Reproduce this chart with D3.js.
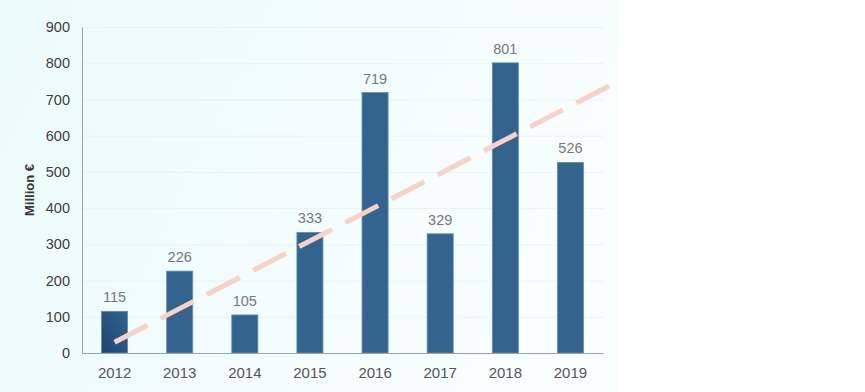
<!DOCTYPE html>
<html><head><meta charset="utf-8">
<script src="https://cdn.jsdelivr.net/npm/d3@7"></script>
<style>body{margin:0;background:#fff;}svg{display:block;font-family:"Liberation Sans",Arial,sans-serif;}</style>
</head><body><svg id="c" width="865" height="392"></svg>
<script>
const years = ["2012","2013","2014","2015","2016","2017","2018","2019"];
const values = [115,226,105,333,719,329,801,526];
const yTicks = [0,100,200,300,400,500,600,700,800,900];
const trendIdx = [0, 7.75];
const trendVal = [29.5, 752];

const svg = d3.select("#c");
const m = {l:82, r:262, t:27, b:39};
const W = 865, H = 392;
const x = d3.scaleBand().domain(years).range([m.l, W - m.r]).paddingInner(0.6).paddingOuter(0.3);
const y = d3.scaleLinear().domain([0,900]).range([H - m.b, m.t]);

const defs = svg.append("defs");
const bg = defs.append("linearGradient").attr("id","bg").attr("x1","0").attr("x2","1").attr("y1","0").attr("y2","0.3");
bg.append("stop").attr("offset","0").attr("stop-color","#ecfbfb");
bg.append("stop").attr("offset","1").attr("stop-color","#f8fefe");
const g1 = defs.append("linearGradient").attr("id","b0").attr("x1","0").attr("x2","1").attr("y1","1").attr("y2","0");
g1.append("stop").attr("offset","0").attr("stop-color","#1b4674");
g1.append("stop").attr("offset","1").attr("stop-color","#33628f");
defs.append("clipPath").attr("id","clip").append("rect").attr("x",0).attr("y",0).attr("width",619).attr("height",H);

svg.append("rect").attr("x",0).attr("y",0).attr("width",619).attr("height",H).attr("fill","url(#bg)");

svg.append("g").selectAll("line").data(yTicks.slice(1)).join("line")
  .attr("x1", m.l).attr("x2", W - m.r + 0.5)
  .attr("y1", d => y(d) + 0.5).attr("y2", d => y(d) + 0.5)
  .attr("stroke", "#e8f3f3").attr("stroke-width", 1);

svg.append("g").selectAll("rect").data(values).join("rect")
  .attr("x", (d,i) => x(years[i]))
  .attr("y", d => y(d))
  .attr("width", x.bandwidth())
  .attr("height", d => y(0) - y(d))
  .attr("fill", (d,i) => i === 0 ? "url(#b0)" : "#33648f")
  .attr("stroke", "#5f8db3").attr("stroke-width", 0.8);

svg.append("g").selectAll("text").data(values).join("text")
  .attr("x", (d,i) => x(years[i]) + x.bandwidth()/2)
  .attr("y", d => y(d) - 9)
  .attr("text-anchor","middle").attr("font-size", 14.5).attr("fill","#777")
  .text(d => d);

const yAxis = d3.axisLeft(y).tickValues(yTicks).tickSize(0).tickPadding(12);
const ya = svg.append("g").attr("transform", `translate(${m.l},0)`).call(yAxis);
ya.select(".domain").attr("stroke","#9aa3a3");
ya.selectAll("text").attr("font-size",14.5).attr("fill","#3e3e3e").attr("font-family","Liberation Sans, Arial, sans-serif");

const xAxis = d3.axisBottom(x).tickSize(0).tickPadding(14);
const xa = svg.append("g").attr("transform", `translate(0,${y(0)})`).call(xAxis);
xa.select(".domain").attr("stroke","#9aa3a3").attr("d", `M${m.l},0.5H${W - m.r + 0.5}`);
xa.selectAll("text").attr("font-size",15).attr("fill","#555").attr("font-family","Liberation Sans, Arial, sans-serif");

const xi = d3.scaleLinear().domain([0,1]).range([x(years[0]) + x.bandwidth()/2, x(years[1]) + x.bandwidth()/2]);
svg.append("path")
  .datum(trendIdx.map((d,i) => [d, trendVal[i]]))
  .attr("clip-path","url(#clip)")
  .attr("d", d3.line().x(d => xi(d[0])).y(d => y(d[1])))
  .attr("fill","none").attr("stroke","#f8d2c3").attr("stroke-width",5)
  .attr("stroke-dasharray","37,15");

svg.append("text")
  .attr("transform", `translate(34,${(m.t + H - m.b)/2}) rotate(-90)`)
  .attr("text-anchor","middle").attr("font-size",13).attr("font-weight","bold").attr("fill","#333")
  .text("Million €");
</script></body></html>
